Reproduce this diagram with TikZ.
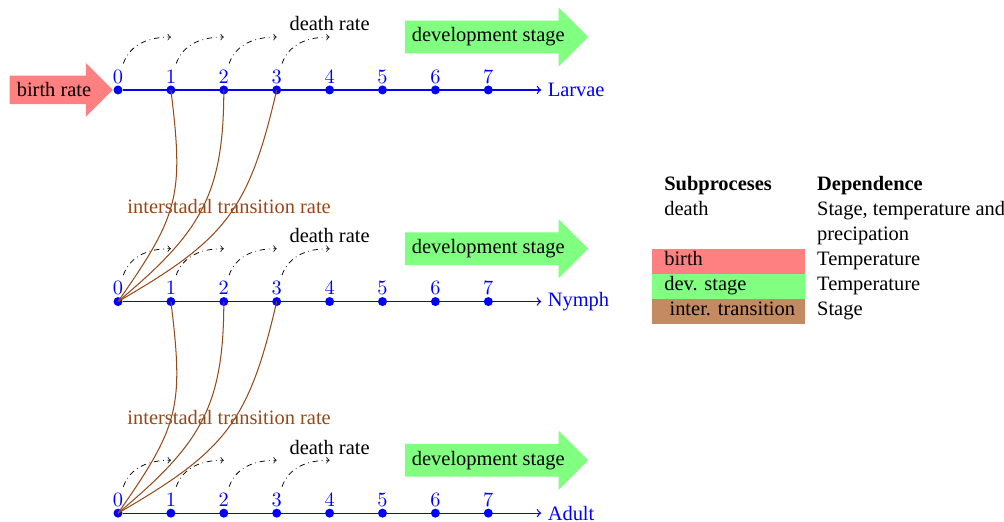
\documentclass[tikz,border=0pt]{standalone}
\usepackage[no-math]{fontspec}
\setmainfont{Liberation Serif}
\usetikzlibrary{shapes.arrows}
\definecolor{arrowred}{HTML}{FF8080}
\definecolor{arrowgreen}{HTML}{80FF80}
\definecolor{curvebrown}{HTML}{94491A}
\definecolor{tabbrown}{HTML}{C48A62}
\tikzset{
  dot/.style={circle,fill=blue,inner sep=0pt,minimum size=0.17cm},
  num/.style={above,text=blue,inner sep=3.4pt},
  axisline/.style={blue,line width=0.7pt,->},
  deathar/.style={->,dashdotted,line width=0.4pt},
  trans/.style={curvebrown,line width=0.55pt},
  devarrow/.style={single arrow,fill=arrowgreen,draw=none,single arrow head extend=0.25cm,minimum height=3.44cm,inner sep=3.6pt},
  birtharrow/.style={single arrow,fill=arrowred,draw=none,single arrow head extend=0.24cm,minimum height=1.95cm,inner sep=3.6pt},
  cell/.style={anchor=base west,inner sep=0pt},
}
\begin{document}
\begin{tikzpicture}[font=\fontsize{11}{13.6}\selectfont]
\useasboundingbox (-2.231,-8.166) rectangle (16.749,1.701);
\foreach \r/\y/\nm in {L/0/Larvae,N/-4/Nymph,A/-8/Adult}{
  \foreach \i in {0,...,7}{
    \node[dot] (\r\i) at (\i,\y) {};
  }
  \coordinate (\r e) at (8,\y);
  \draw[axisline] (\r0) -- (\r e);
  \node[right,text=blue] (\r lab) at (\r e) {\nm};
  \foreach \i in {0,...,7}{
    \node[num] (\r n\i) at (\i,\y) {$\i$};
  }
  \foreach \i in {0,...,3}{
    \coordinate (\r s\i) at (\i+0.1,\y+0.5);
    \coordinate (\r t\i) at (\i+1,\y+1);
    \draw[deathar] (\r s\i) to[out=70,in=180] (\r t\i);
  }
  \node (\r d) at (4,\y+1.25) {death rate};
  \node[devarrow] (\r dev) at (7,\y+1) {development stage};
}
\node[birtharrow,anchor=tip] (birth) at (-0.09,0) {birth rate};
% interstadal transitions
\foreach \a/\b in {N/L,A/N}{
  \draw[trans] (\a0.center) to[out=55,in=-83,looseness=1.25] (\b1.center);
  \draw[trans] (\a0.center) to[out=40,in=-90,looseness=1.15] (\b2.center);
  \draw[trans] (\a0.center) to[out=30,in=-103,looseness=1.2] (\b3.center);
}
\node[text=curvebrown] (it1) at (2.1,-2.2) {interstadal transition rate};
\node[text=curvebrown] (it2) at (2.1,-6.2) {interstadal transition rate};
% table
\fill[arrowred] (10.09,-3.006) rectangle (12.99,-3.478);
\fill[arrowgreen] (10.09,-3.478) rectangle (12.99,-3.951);
\fill[tabbrown] (10.09,-3.951) rectangle (12.99,-4.423);
\node[cell] (h1) at (10.32,-1.909) {\textbf{Subproceses}};
\node[cell] (h2) at (13.21,-1.909) {\textbf{Dependence}};
\node[cell] (c11) at (10.32,-2.382) {death};
\node[cell] (c12) at (13.21,-2.382) {Stage, temperature and};
\node[cell] (c12b) at (13.21,-2.854) {precipation};
\node[cell] (c21) at (10.32,-3.327) {birth};
\node[cell] (c22) at (13.21,-3.327) {Temperature};
\node[cell] (c31) at (10.32,-3.800) {dev. stage};
\node[cell] (c32) at (13.21,-3.800) {Temperature};
\node[cell] (c41) at (10.42,-4.272) {inter. transition};
\node[cell] (c42) at (13.21,-4.272) {Stage};
\end{tikzpicture}
\end{document}
